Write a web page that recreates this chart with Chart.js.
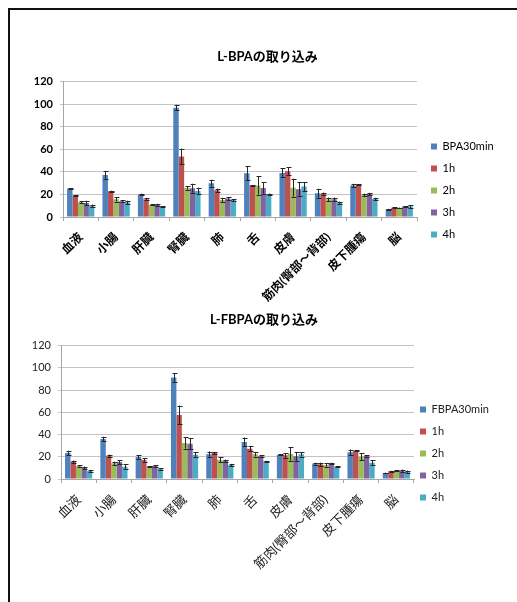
<!DOCTYPE html>
<html lang="ja">
<head>
<meta charset="utf-8">
<title>L-BPA / L-FBPA の取り込み</title>
<script src="https://cdn.jsdelivr.net/npm/chart.js@4.4.1/dist/chart.umd.min.js"></script>
<style>
  html, body { margin: 0; padding: 0; background: #fff; }
  body { width: 517px; height: 602px; position: relative; overflow: hidden; }
  .frame {
    position: absolute; left: 8px; top: 8px; width: 540px; height: 620px;
    border-left: 2px solid #111; border-top: 2px solid #111;
  }
  .box { position: absolute; left: 0; width: 517px; }
  #box1 { top: 0; height: 305px; }
  #box2 { top: 305px; height: 297px; }
</style>
</head>
<body>
<div class="frame"></div>
<div class="box" id="box1"><canvas id="bpa"></canvas></div>
<div class="box" id="box2"><canvas id="fbpa"></canvas></div>
<script>
// Tissues (x categories)
const organs = ['血液', '小腸', '肝臓', '腎臓', '肺', '舌', '皮膚', '筋肉(臀部～背部)', '皮下腫瘍', '脳'];
const yTicks = [0, 20, 40, 60, 80, 100, 120];

// L-BPA uptake, mean per time point
const bpa30min = [25, 37.3, 20, 96.9, 30, 38.8, 39.1, 21, 27.9, 6.8];
const bpa1h    = [19, 22.8, 15.7, 53.6, 23.7, 27.9, 40.6, 20.7, 28.7, 8.3];
const bpa2h    = [13, 15.7, 10.7, 25.8, 15, 27.9, 26, 15.7, 19.6, 8];
const bpa3h    = [12.4, 14, 10.7, 25.5, 16.3, 25.8, 24.6, 15.7, 20.4, 9.2];
const bpa4h    = [10, 13, 9, 23, 15, 20, 27, 12.7, 16, 9.2];
// L-BPA uptake, error (±)
const bpa30minErr = [0.5, 3.5, 0.8, 2.5, 3, 6, 4, 4, 1.5, 0.4];
const bpa1hErr    = [0.5, 0.5, 1, 7, 1.5, 0.3, 3.5, 1, 0.5, 0.3];
const bpa2hErr    = [1, 2, 0.5, 1.5, 2, 8, 8, 1.5, 1, 0.4];
const bpa3hErr    = [2, 1, 1, 4, 1, 5, 6, 1.5, 1, 0.5];
const bpa4hErr    = [1, 1.5, 0.5, 3, 0.8, 0.8, 4, 1, 1, 1];

// L-FBPA uptake, mean per time point
const fbpa30min = [23.4, 36, 19.8, 91.2, 22.2, 33.3, 21.9, 13.8, 24, 5.4];
const fbpa1h    = [15.6, 21, 17.1, 57.6, 23.4, 27.3, 21.3, 13.2, 25.5, 6.9];
const fbpa2h    = [11.7, 14.1, 11.1, 32.4, 17.4, 22.2, 22.5, 12.6, 20.1, 7.5];
const fbpa3h    = [10.2, 15.3, 11.7, 31.8, 16.5, 20.7, 20.4, 14.1, 20.7, 7.5];
const fbpa4h    = [7.2, 11.1, 9, 21.9, 12.6, 15.9, 22.2, 11.1, 14.7, 6.6];
// L-FBPA uptake, error (±)
const fbpa30minErr = [2, 2, 1.5, 4, 2.5, 4, 0.6, 0.8, 2.5, 0.4];
const fbpa1hErr    = [1, 1, 1.5, 8.5, 1, 2, 2, 1.5, 0.5, 0.4];
const fbpa2hErr    = [0.5, 1.5, 0.5, 5, 2, 2, 6, 1.5, 3, 0.5];
const fbpa3hErr    = [1, 1.5, 0.5, 5, 1, 0.5, 4, 0.5, 0.5, 1];
const fbpa4hErr    = [1, 2, 0.5, 2, 1, 0.5, 2, 0.5, 2, 1];

const seriesColors = ['#4F81BD', '#C0504D', '#9BBB59', '#8064A2', '#4BACC6'];
const FONT = "Lato, 'Noto Sans CJK JP', sans-serif";

// Draws ± error bars with caps above/below every bar
const errorBars = {
  id: 'errorBars',
  afterDatasetsDraw(chart) {
    const ctx = chart.ctx;
    const y = chart.scales.y;
    ctx.save();
    ctx.strokeStyle = '#262626';
    ctx.lineWidth = 1;
    chart.data.datasets.forEach((ds, i) => {
      const meta = chart.getDatasetMeta(i);
      meta.data.forEach((bar, j) => {
        const v = ds.data[j], e = ds.errors[j];
        const x = Math.round(bar.x) + 0.5;
        const y1 = y.getPixelForValue(v + e), y2 = y.getPixelForValue(v - e);
        ctx.beginPath();
        ctx.moveTo(x, y1); ctx.lineTo(x, y2);
        ctx.moveTo(x - 2, Math.round(y1) + 0.5); ctx.lineTo(x + 3, Math.round(y1) + 0.5);
        ctx.moveTo(x - 2, Math.round(y2) + 0.5); ctx.lineTo(x + 3, Math.round(y2) + 0.5);
        ctx.stroke();
      });
    });
    ctx.restore();
  }
};

// Gives the legend a fixed width and a fixed place beside the plot
const legendSlot = {
  id: 'legendSlot',
  afterInit(chart, args, opts) {
    const lg = chart.legend;
    if (!lg) return;
    const fit = lg.fit.bind(lg);
    lg.fit = function () { fit(); this.width = opts.width; };
  },
  afterLayout(chart, args, opts) {
    const lg = chart.legend;
    if (!lg) return;
    const h = lg.height;
    lg.left = opts.left; lg.right = opts.left + lg.width;
    lg.top = opts.top; lg.bottom = opts.top + h;
  }
};

function makeChart(id, title, names, values, errors, g) {
  return new Chart(document.getElementById(id), {
    type: 'bar',
    data: {
      labels: organs,
      datasets: names.map((n, i) => ({
        label: n,
        data: values[i],
        errors: errors[i],
        backgroundColor: seriesColors[i],
        borderWidth: 0,
        categoryPercentage: 0.77,
        barPercentage: 1.0
      }))
    },
    plugins: [errorBars, legendSlot],
    options: {
      responsive: true,
      maintainAspectRatio: false,
      animation: false,
      devicePixelRatio: 1,
      layout: { padding: { left: g.padLeft, right: 0, top: 0, bottom: 0 } },
      plugins: {
        title: {
          display: true, text: title, color: '#000',
          font: { family: FONT, size: 13, weight: 'bold', lineHeight: 1.2 },
          padding: { top: g.titleTop, bottom: g.titleBottom }
        },
        legend: {
          position: 'right', align: 'start',
          labels: {
            boxWidth: 6, boxHeight: 6, padding: g.legendGap,
            color: g.textColor, font: { family: FONT, size: 11 }
          }
        },
        legendSlot: { width: g.legendWidth, left: g.legendLeft, top: g.legendTop },
        tooltip: { enabled: false }
      },
      scales: {
        x: {
          grid: { offset: true, drawOnChartArea: false, drawTicks: true, tickLength: 4, color: '#a6a6a6' },
          border: { color: '#a6a6a6' },
          ticks: {
            autoSkip: false, maxRotation: 45, minRotation: 45, padding: g.xPad,
            color: g.textColor, font: { family: FONT, size: g.xFont, weight: g.labelWeight }
          },
          afterFit(s) { s.height = g.xHeight; }
        },
        y: {
          min: 0, max: 120,
          afterBuildTicks(s) { s.ticks = yTicks.map(v => ({ value: v })); },
          grid: { color: '#c3c3c3', tickLength: 3, drawTicks: true },
          border: { color: '#a6a6a6' },
          ticks: {
            padding: 7, color: g.textColor,
            font: { family: FONT, size: 11, weight: g.labelWeight }
          },
          afterFit(s) { s.width = g.yWidth; }
        }
      }
    }
  });
}

makeChart('bpa', 'L-BPAの取り込み',
  ['BPA30min', '1h', '2h', '3h', '4h'],
  [bpa30min, bpa1h, bpa2h, bpa3h, bpa4h],
  [bpa30minErr, bpa1hErr, bpa2hErr, bpa3hErr, bpa4hErr],
  { padLeft: 18, yWidth: 45, titleTop: 49, titleBottom: 17, xHeight: 88,
    xFont: 12, xPad: 9,
    legendWidth: 100, legendLeft: 420, legendTop: 130, legendGap: 11,
    textColor: '#000', labelWeight: 'bold' });

makeChart('fbpa', 'L-FBPAの取り込み',
  ['FBPA30min', '1h', '2h', '3h', '4h'],
  [fbpa30min, fbpa1h, fbpa2h, fbpa3h, fbpa4h],
  [fbpa30minErr, fbpa1hErr, fbpa2hErr, fbpa3hErr, fbpa4hErr],
  { padLeft: 11, yWidth: 50, titleTop: 7, titleBottom: 18, xHeight: 123,
    xFont: 13, xPad: 9,
    legendWidth: 103, legendLeft: 409, legendTop: 88, legendGap: 11,
    textColor: '#222', labelWeight: 'normal' });
</script>
</body>
</html>
